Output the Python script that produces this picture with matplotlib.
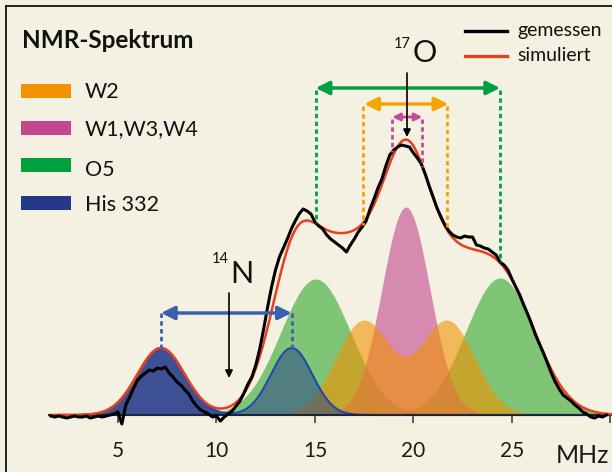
import numpy as np
import matplotlib
matplotlib.use("Agg")
import matplotlib.pyplot as plt
from matplotlib.patches import Rectangle
from matplotlib.lines import Line2D

# ---------------- data ----------------
# measured spectrum (MHz, relative intensity)
freq = np.round(np.arange(1.6, 29.81, 0.2), 2)
measured = [
    -1, -2, -1, -2, -3, -2, -1, -2, -2, -1, -3, -2, -1, -2, -1, 0, 1, 3, -9, 10,
    18, 27, 35, 39, 42, 45, 44, 47, 46, 48, 42, 38, 33, 30, 25, 21, 14, 9, 5, 3,
    1, -2, -1, -6, -2, 1, 4, 9, 14, 22, 31, 38, 50, 66, 86, 108, 128, 145, 158, 167,
    176, 186, 194, 201, 206, 204, 201, 193, 189, 186, 180, 176, 173, 170, 167, 163, 170, 176, 183, 188,
    194, 206, 216, 227, 236, 249, 260, 265, 268, 270, 269, 268, 262, 257, 251, 241, 229, 218, 207, 198,
    190, 184, 180, 178, 177, 179, 178, 178, 170, 169, 167, 166, 163, 160, 153, 150, 145, 136, 128, 120,
    110, 101, 91, 80, 71, 62, 52, 42, 33, 26, 20, 17, 14, 10, 7, 3, 1, -2, -3, -1,
    -2, 0,
]

# simulated components (Gaussian lines: centre MHz, height, width MHz)
his_centers = [7.19, 13.82]
his_heights = [67, 67]
his_widths = [1.2, 1.05]

o5_centers = [15.04, 24.40]
o5_heights = [136, 137]
o5_widths = [1.78, 1.75]

w2_centers = [17.46, 21.72]
w2_heights = [94, 94]
w2_widths = [1.4, 1.4]

w134_centers = [19.62]
w134_heights = [208]
w134_widths = [1.22]

w134_split = [18.93, 20.45]

legend_labels = ["W2", "W1,W3,W4", "O5", "His 332"]
tick_values = [5, 10, 15, 20, 25, 30]
tick_labels = ["5", "10", "15", "20", "25", ""]

# ---------------- style ----------------
W, H = 612, 472
BG = "#f4f1e3"
C_OR = "#f39200"
C_PK = "#c4468f"
C_GR = "#00a03c"
C_BL = "#233a8c"
C_GR_FILL = "#33a62c"
C_RED = "#e8401c"
FONT = "Lato"
plt.rcParams["font.family"] = [FONT, "DejaVu Sans"]

fig = plt.figure(figsize=(W / 100, H / 100), dpi=100, facecolor=BG)
ax = fig.add_axes([0, 0, 1, 1], facecolor=BG)

# pixel mapping helpers (layout only)
X_PX0, X_PXPER = 19.4, 19.7
Y_BASE = 415


def dx(px):
    return (px - X_PX0) / X_PXPER


def dy(py):
    return Y_BASE - py


ax.set_xlim(dx(0), dx(W))
ax.set_ylim(dy(H), dy(0))

x = np.linspace(1.6, 30.1, 1200)


def gauss(xv, c, h, s):
    return h * np.exp(-((xv - c) ** 2) / (2 * s ** 2))


def comp_sum(cs, hs, ws):
    return sum(gauss(x, c, h, s) for c, h, s in zip(cs, hs, ws))


his_parts = [gauss(x, c, h, s) for c, h, s in zip(his_centers, his_heights, his_widths)]
o5_parts = [gauss(x, c, h, s) for c, h, s in zip(o5_centers, o5_heights, o5_widths)]
w2 = comp_sum(w2_centers, w2_heights, w2_widths)
w134 = comp_sum(w134_centers, w134_heights, w134_widths)
his = his_parts[0] + his_parts[1]
sim = his + o5_parts[0] + o5_parts[1] + w2 + w134

# fills
for p in o5_parts:
    ax.fill_between(x, 0, p, color=C_GR_FILL, alpha=0.6, lw=0, zorder=2)
ax.fill_between(x, 0, w134, color=C_PK, alpha=0.6, lw=0, zorder=3)
ax.fill_between(x, 0, w2, color=C_OR, alpha=0.6, lw=0, zorder=4)
ax.fill_between(x, 0, his_parts[0], color=C_BL, alpha=0.88, lw=0, zorder=5)
ax.fill_between(x, 0, his_parts[1], color=C_BL, alpha=0.5, lw=0, zorder=5)
ax.plot(x, his, color="#1f4ca6", lw=1.5, zorder=6)

# curves
ax.plot(x, sim, color=C_RED, lw=1.8, zorder=7)
ax.plot(freq, measured, color="black", lw=2.2, zorder=8, solid_joinstyle="round")

# axis
for s in ["top", "left", "right"]:
    ax.spines[s].set_visible(False)
ax.spines["bottom"].set_position(("data", 0))
ax.spines["bottom"].set_bounds(dx(49), dx(W))
ax.spines["bottom"].set_color("#1c2540")
ax.spines["bottom"].set_linewidth(1.5)
ax.spines["bottom"].set_zorder(6.5)
ax.set_yticks([])
ax.set_xticks(tick_values)
ax.set_xticklabels(tick_labels)
ax.tick_params(axis="x", direction="out", length=5.5, width=1.1, color="#333333",
               pad=13, labelsize=15, labelcolor="#1a1a1a")
ax.text(dx(556), dy(463), "MHz", fontsize=18, color="#1a1a1a", ha="left", va="baseline")

# dotted guides and splitting arrows
meas_x = np.asarray(freq, float)
meas_y = np.asarray(measured, float)


def guide(xc, ytop, color, yend=None):
    if yend is None:
        yend = np.interp(xc, meas_x, meas_y)
    ax.plot([xc, xc], [ytop, yend], color=color, lw=2.0,
            linestyle=(0, (1.6, 1.2)), zorder=9)


def darrow(x1, x2, yv, color, ms=18, lw=2.5):
    ax.annotate("", xy=(x2, yv), xytext=(x1, yv),
                arrowprops=dict(arrowstyle="<|-|>", color=color, lw=lw,
                                mutation_scale=ms, shrinkA=0, shrinkB=0),
                zorder=10)


C_GR_AR = "#00a040"
C_OR_AR = "#f5a300"
C_PK_AR = "#c8479a"
C_BL_AR = "#3b5fb0"

for c in o5_centers:
    guide(c, dy(90), C_GR_AR)
darrow(o5_centers[0], o5_centers[1], dy(88), C_GR_AR, ms=20)

for c in w2_centers:
    guide(c, dy(106), C_OR_AR)
darrow(w2_centers[0] + 0.05, w2_centers[1] + 0.05, dy(104), C_OR_AR, ms=20)

for c in w134_split:
    guide(c, dy(119), C_PK_AR)
darrow(w134_split[0], w134_split[1], dy(117), C_PK_AR, ms=11, lw=2.0)

for c, h in zip(his_centers, his_heights):
    guide(c, dy(313), C_BL_AR, yend=h)
darrow(his_centers[0], his_centers[1], dy(313), C_BL_AR, ms=20)

# nucleus markers
ax.annotate("", xy=(dx(407), dy(137)), xytext=(dx(407), dy(73)),
            arrowprops=dict(arrowstyle="-|>", color="black", lw=1.2,
                            mutation_scale=11, shrinkA=0, shrinkB=0), zorder=11)
ax.text(dx(413), dy(62), "O", fontsize=22, ha="left", va="baseline", color="#111111")
ax.text(dx(410.5), dy(37), "17", fontsize=10.5, ha="right", va="top", color="#111111")

ax.annotate("", xy=(dx(229), dy(378)), xytext=(dx(229), dy(293)),
            arrowprops=dict(arrowstyle="-|>", color="black", lw=1.2,
                            mutation_scale=11, shrinkA=0, shrinkB=0), zorder=11)
ax.text(dx(230), dy(283), "N", fontsize=22, ha="left", va="baseline", color="#111111")
ax.text(dx(228.5), dy(252), "14", fontsize=10.5, ha="right", va="top", color="#111111")

# frame lines (top and left)
fig.add_artist(Line2D([6 / W, 1], [1 - 6 / H, 1 - 6 / H], color="#111111", lw=1.3,
                      transform=fig.transFigure))
fig.add_artist(Line2D([6 / W, 6 / W], [0, 1 - 6 / H], color="#111111", lw=1.3,
                      transform=fig.transFigure))

# title and component legend
fig.text(22 / W, 1 - 48 / H, "NMR-Spektrum", fontsize=17.5, fontweight="bold",
         ha="left", va="baseline", color="#111111")
sw_colors = [C_OR, C_PK, C_GR, C_BL]
sw_tops = [84, 121, 158, 196]
txt_base = [98, 135, 176, 211]
for lab, col, t, b in zip(legend_labels, sw_colors, sw_tops, txt_base):
    fig.add_artist(Rectangle((21 / W, 1 - (t + 14) / H), 50 / W, 14 / H,
                             facecolor=col, edgecolor="none", transform=fig.transFigure))
    fig.text(85 / W, 1 - b / H, lab, fontsize=15.5, ha="left", va="baseline", color="#111111")

# line legend
for yy, col, lab in [(31, "black", "gemessen"), (56, C_RED, "simuliert")]:
    fig.add_artist(Line2D([465 / W, 507 / W], [1 - yy / H, 1 - yy / H], color=col, lw=2.4,
                          transform=fig.transFigure))
    fig.text(517 / W, 1 - (yy + 5) / H, lab, fontsize=14, ha="left", va="baseline",
             color="#111111")

fig.savefig("out.png", dpi=100, facecolor=BG)
